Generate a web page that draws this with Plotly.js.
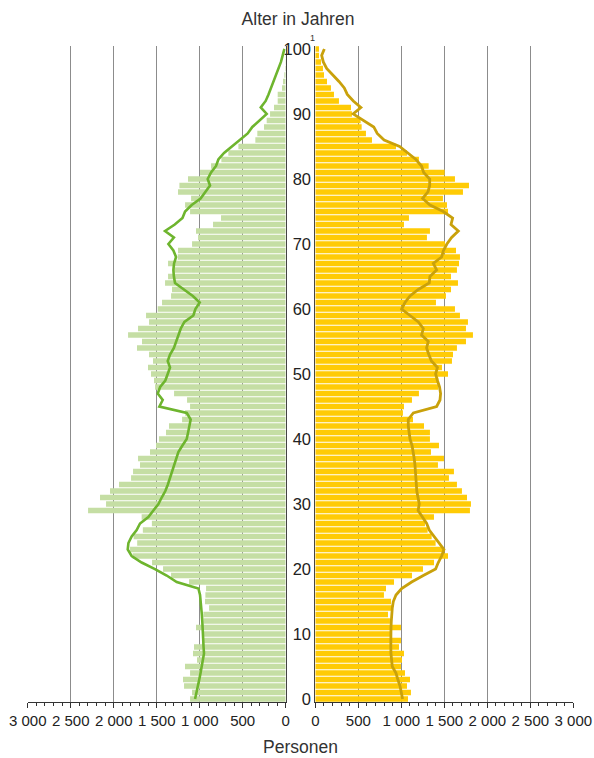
<!DOCTYPE html>
<html>
<head>
<meta charset="utf-8">
<script src="https://cdn.plot.ly/plotly-3.0.1.min.js"></script>
<style>html,body{margin:0;padding:0;background:#fff;}#chart{width:594px;height:758px;}</style>
</head>
<body>
<div id="chart"></div>
<script>
// Ages 0..100
const ages = Array.from({length: 101}, (_, i) => i);

// Left pyramid (bars) by age 0..100
const leftBars = [
1112,1089,1182,1194,1112,1171,1031,1078,1066,957,
957,1043,957,957,891,938,934,926,1124,1333,
1426,1554,1779,1810,1727,1768,1661,1556,1675,2298,
2089,2159,2043,1938,1798,1775,1694,1717,1578,1508,
1473,1392,1357,1205,1170,1112,1147,1298,1519,1531,
1566,1601,1543,1589,1729,1671,1833,1717,1589,1624,
1488,1438,1333,1322,1403,1368,1314,1368,1255,1252,
1089,1019,1043,845,752,1112,1170,1100,1252,1236,
1136,996,868,748,667,550,353,330,252,221,
182,136,93,93,43,31,16,8,4,2,
1];

// Left comparison line by age 0..100
const leftLine = [
1054,1035,1020,1005,990,977,965,950,955,957,
960,965,970,975,980,990,996,1015,1267,1384,
1520,1675,1791,1837,1829,1791,1733,1694,1597,1539,
1480,1442,1400,1370,1345,1320,1300,1267,1248,1201,
1151,1135,1120,1105,1150,1469,1430,1488,1460,1400,
1372,1345,1372,1345,1300,1275,1250,1220,1178,1074,
1050,1000,1080,1180,1287,1300,1306,1298,1275,1306,
1364,1300,1403,1290,1200,1170,1093,990,930,880,
907,868,810,783,717,628,531,442,388,298,
221,290,233,200,170,140,110,80,55,35,
15];

// Right pyramid (bars) by age 0..100
const rightBars = [
1078,1112,1066,1101,1043,996,1008,1031,973,996,
880,996,868,845,903,880,798,822,915,1124,
1252,1380,1543,1488,1399,1353,1306,1275,1380,1798,
1810,1764,1705,1647,1554,1612,1426,1496,1345,1438,
1333,1333,1264,1136,1019,1031,1124,1205,1430,1430,
1543,1473,1589,1601,1647,1752,1833,1752,1775,1682,
1624,1403,1519,1578,1659,1578,1647,1671,1682,1636,
1508,1298,1333,1031,1089,1543,1531,1484,1717,1787,
1624,1504,1318,1205,1066,938,659,589,539,527,
426,415,275,217,182,136,101,89,66,43,
43];

// Right comparison line by age 0..100
const rightLine = [
1015,1000,985,960,938,895,884,880,878,876,
876,880,884,888,895,907,938,1004,1120,1256,
1399,1430,1469,1496,1442,1380,1325,1295,1244,1195,
1209,1190,1180,1175,1171,1165,1159,1150,1140,1125,
1101,1090,1081,1081,1140,1411,1450,1457,1445,1420,
1399,1420,1350,1320,1294,1314,1236,1256,1198,1101,
1004,1043,1101,1198,1325,1333,1411,1372,1469,1490,
1530,1585,1663,1578,1597,1488,1333,1248,1310,1330,
1330,1260,1235,1170,1080,980,800,720,680,560,
440,530,442,372,337,275,198,132,93,74,
105];

const ageTicks = [0,10,20,30,40,50,60,70,80,90,100];
const xTickVals = [0,500,1000,1500,2000,2500,3000];
const xTickText = ['0','500','1 000','1 500','2 000','2 500','3 000'];

const FONT = 'Liberation Sans, Arial, sans-serif';
const W = 594, H = 758;
const px = v => v / W, py = v => 1 - v / H;

const traces = [
  {type:'bar', orientation:'h', x:leftBars, y:ages, xaxis:'x', yaxis:'y',
   marker:{color:'#c5dea4', line:{width:0}}, hoverinfo:'skip'},
  {type:'bar', orientation:'h', x:rightBars, y:ages, xaxis:'x2', yaxis:'y2',
   marker:{color:'#ffcb05', line:{width:0}}, hoverinfo:'skip'},
  {type:'scatter', mode:'lines', x:leftLine, y:ages, xaxis:'x', yaxis:'y',
   line:{color:'#6eb52e', width:2.6}, hoverinfo:'skip'},
  {type:'scatter', mode:'lines', x:rightLine, y:ages, xaxis:'x2', yaxis:'y2',
   line:{color:'#c9a10b', width:2.8}, hoverinfo:'skip'}
];

const xCommon = {
  tickvals:xTickVals, ticktext:xTickText, showgrid:true, gridcolor:'#8c8c8c', gridwidth:1,
  zeroline:false, showline:true, linecolor:'#333', linewidth:1,
  ticks:'outside', ticklen:5, tickcolor:'#333', tickwidth:1,
  minor:{ticks:'outside', ticklen:3, dtick:100, tickcolor:'#333', showgrid:false},
  tickfont:{family:FONT, size:15, color:'#222'}, fixedrange:true
};

const layout = {
  width:W, height:H, margin:{l:0,r:0,t:0,b:0}, showlegend:false,
  paper_bgcolor:'#fff', plot_bgcolor:'rgba(0,0,0,0)', bargap:0.15,
  font:{family:FONT, color:'#222'},
  title:{text:'Alter in Jahren', x:px(298), y:py(19), xanchor:'center', yanchor:'middle',
         font:{family:FONT, size:17.5, color:'#333'}},
  xaxis:Object.assign({}, xCommon, {domain:[px(27.7), px(285.7)], range:[3000,0], anchor:'y'}),
  xaxis2:Object.assign({}, xCommon, {domain:[px(315.3), px(573.3)], range:[0,3000], anchor:'y2'}),
  yaxis:{domain:[py(702.3), py(45.7)], range:[-0.5,100.5], anchor:'x', side:'right',
         showgrid:false, zeroline:false, showline:true, linecolor:'#444', linewidth:1,
         showticklabels:false, ticks:'', fixedrange:true},
  yaxis2:{domain:[py(702.3), py(45.7)], range:[-0.5,100.5], anchor:'x2', side:'left',
         showgrid:false, zeroline:false, showline:true, linecolor:'#444', linewidth:1,
         tickvals:ageTicks, ticks:'', ticklabelstandoff:0,
         tickfont:{family:FONT, size:16.5, color:'#222'}, fixedrange:true},
  annotations:[
    {text:'Personen', xref:'paper', yref:'paper', x:px(300), y:py(747), xanchor:'center', yanchor:'middle',
     showarrow:false, font:{family:FONT, size:17.5, color:'#333'}},
    {text:'1', xref:'paper', yref:'paper', x:px(312), y:py(38), xanchor:'center', yanchor:'middle',
     showarrow:false, font:{family:FONT, size:9, color:'#333'}}
  ]
};

Plotly.newPlot('chart', traces, layout, {staticPlot:true, displayModeBar:false});
</script>
</body>
</html>
